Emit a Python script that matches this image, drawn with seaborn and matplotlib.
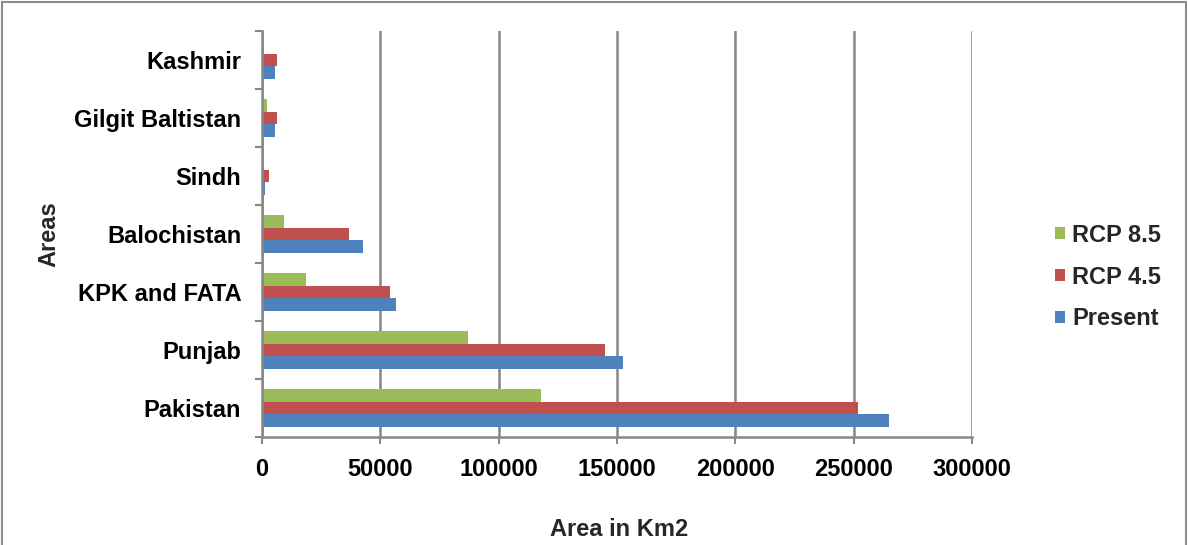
import matplotlib
matplotlib.use("Agg")
import matplotlib.pyplot as plt
from matplotlib.patches import Rectangle
from matplotlib.ticker import FixedLocator
import seaborn as sns
import pandas as pd

# Area (km2) by region under present climate and two future scenarios
areas = ["Kashmir", "Gilgit Baltistan", "Sindh", "Balochistan",
         "KPK and FATA", "Punjab", "Pakistan"]
rcp85 = [0, 2100, 0, 9300, 18600, 87000, 118000]
rcp45 = [6300, 6300, 3000, 36800, 54100, 145000, 252000]
present = [5500, 5500, 1300, 42700, 56600, 152500, 265000]
series = ["RCP 8.5", "RCP 4.5", "Present"]
colors = ["#9BBB59", "#C0504D", "#4F81BD"]
x_ticks = [0, 50000, 100000, 150000, 200000, 250000, 300000]

df = pd.DataFrame({
    "Areas": areas * 3,
    "Scenario": [series[0]] * len(areas) + [series[1]] * len(areas) + [series[2]] * len(areas),
    "Area": rcp85 + rcp45 + present,
})

sns.set_theme(style="white")
plt.rcParams["font.family"] = ["Liberation Sans", "DejaVu Sans"]
plt.rcParams["font.weight"] = "bold"
FS = 17

fig = plt.figure(figsize=(11.88, 5.45), dpi=100)
ax = fig.add_axes([262 / 1188, 1 - 437 / 545, 710 / 1188, 406 / 545])

sns.barplot(data=df, x="Area", y="Areas", hue="Scenario", order=areas,
            hue_order=series, palette=colors, orient="h", width=0.67,
            saturation=1, linewidth=0, ax=ax)

grid_c = "#878787"
ax.set_xlim(0, 300000)
ax.set_xticks(x_ticks)
ax.set_xticklabels([str(v) for v in x_ticks])
ax.grid(axis="x", color=grid_c, lw=1.8)
ax.set_axisbelow(True)

for side in ["top", "right"]:
    ax.spines[side].set_visible(False)
for side in ["left", "bottom"]:
    ax.spines[side].set_color(grid_c)
    ax.spines[side].set_linewidth(1.8)

# category separators as outward tick marks on the y axis
ax.yaxis.set_minor_locator(FixedLocator([i - 0.5 for i in range(len(areas) + 1)]))
ax.tick_params(axis="y", which="minor", left=True, length=5, width=1.5, color=grid_c)
ax.tick_params(axis="y", which="major", left=True, length=0, pad=15,
               labelsize=FS, labelcolor="black")
ax.tick_params(axis="x", which="major", bottom=True, length=5, width=1.5,
               color=grid_c, pad=10, labelsize=FS, labelcolor="black")
for lab in ax.get_xticklabels() + ax.get_yticklabels():
    lab.set_fontweight("bold")

ax.set_xlabel("")
ax.set_ylabel("")
fig.text(619 / 1188, 1 - 530 / 545, "Area in Km2", ha="center", va="center",
         fontsize=FS, fontweight="bold")
fig.text(49 / 1188, 1 - 234 / 545, "Areas", ha="center", va="center",
         rotation=90, fontsize=FS, fontweight="bold")

handles, labels = ax.get_legend_handles_labels()
ax.legend(handles, labels, loc="center left", bbox_to_anchor=(1034 / 1188, 1 - 277 / 545),
          bbox_transform=fig.transFigure, frameon=False, handlelength=0.42,
          handleheight=0.42, handletextpad=0.3, labelspacing=0.8,
          prop={"size": FS, "weight": "bold"})

fig.patches.append(Rectangle((2 / 1188, -0.02), 1184 / 1188, 1 - 2 / 545 + 0.02,
                             transform=fig.transFigure, fill=False,
                             edgecolor="#8c8c8c", lw=1.5, clip_on=False))

fig.savefig("out.png", dpi=100)
